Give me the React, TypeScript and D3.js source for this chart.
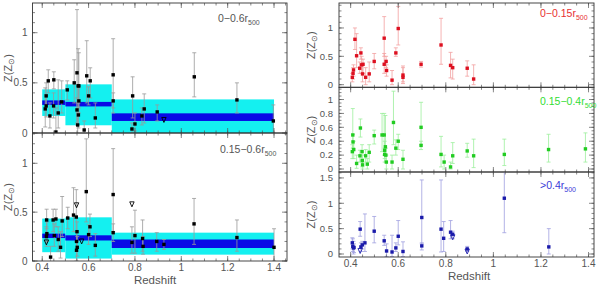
import React from "react";
import * as d3 from "d3";

// [redshift, Z, lower end of error bar, upper end of error bar]
type Pt = [number, number, number, number];
type Lim = [number, number];

const binEdges = [0.4, 0.5, 0.7, 1.4];

// left panels: running averages (cyan = scatter, blue = error on mean)
const topCyanLo = [0.17, 0.077, 0];
const topCyanHi = [0.435, 0.485, 0.335];
const topBlueLo = [0.28, 0.265, 0.12];
const topBlueHi = [0.325, 0.31, 0.196];

const botCyanLo = [0.09, 0.025, 0.065];
const botCyanHi = [0.434, 0.447, 0.29];
const botBlueLo = [0.235, 0.21, 0.133];
const botBlueHi = [0.28, 0.263, 0.22];

// 0-0.6 r500
const inner06: Pt[] = [
	[0.413, 0.24, 0.06, 0.45], [0.417, 0.27, 0.16, 0.38], [0.417, 0.37, 0.25, 0.5],
	[0.426, 0.52, 0.4, 0.63], [0.433, 0.17, 0.05, 0.3], [0.449, 0.27, 0.15, 0.4],
	[0.45, 0.53, 0.44, 0.61], [0.459, 0.01, -0.05, 0.25], [0.469, 0.2, 0.05, 0.53],
	[0.484, 0.31, 0.2, 0.52], [0.508, 0.43, 0.33, 0.52], [0.538, 0.5, 0.3, 0.73],
	[0.55, 0.6, 0.08, 1.23], [0.555, 0.47, 0.3, 0.84], [0.558, 0.47, 0.25, 0.8],
	[0.55, 0.23, 0.1, 0.35], [0.556, 0.18, 0.05, 0.3], [0.553, 0.08, -0.05, 0.2],
	[0.558, 0.32, 0.2, 0.45], [0.581, 0.03, -0.05, 0.12], [0.592, 0.57, 0.3, 0.92],
	[0.6, 0.37, 0.28, 0.46], [0.607, 0.52, 0.35, 0.65], [0.629, 0.15, 0.05, 0.3],
	[0.706, 0.58, 0.2, 0.94], [0.706, 0.32, 0.25, 0.4], [0.79, 0.37, 0.15, 0.56],
	[0.787, 0.04, 0, 0.1], [0.8, 0.09, 0.02, 0.2], [0.84, 0.24, 0.1, 0.39],
	[0.83, 0.17, 0.08, 0.25], [0.896, 0.21, 0.12, 0.28], [1.056, 0.56, 0.36, 0.8],
	[1.24, 0.33, 0.2, 0.5], [1.397, 0.12, 0, 0.28],
];
const inner06Lim: Lim[] = [[0.925, 0.13]];

// 0.15-0.6 r500
const mid06: Pt[] = [
	[0.419, 0.42, 0.33, 0.53], [0.418, 0.25, 0.15, 0.35], [0.42, 0.28, 0.2, 0.4],
	[0.436, 0.04, -0.05, 0.15], [0.447, 0.42, 0.3, 0.53], [0.459, 0.43, 0.35, 0.53],
	[0.452, 0.26, 0.15, 0.38], [0.469, 0.22, 0.1, 0.35], [0.479, 0.14, 0.03, 0.3],
	[0.486, 0.41, 0.25, 0.66], [0.51, 0.44, 0.33, 0.55], [0.535, 0.47, 0.3, 0.75],
	[0.547, 0.45, 0.3, 0.73], [0.548, 0.2, 0.1, 0.3], [0.548, 0.11, 0, 0.2],
	[0.55, 0.3, 0.2, 0.4], [0.551, 0.14, 0.05, 0.25], [0.59, 0.71, 0.4, 1.25],
	[0.6, 0.27, 0.17, 0.37], [0.606, 0.35, 0.25, 0.48], [0.629, 0.16, 0.05, 0.28],
	[0.706, 0.68, 0.3, 1.15], [0.706, 0.29, 0.2, 0.38], [0.787, 0.19, 0.08, 0.35],
	[0.8, 0.26, 0.08, 0.52], [0.833, 0.23, 0.1, 0.42], [0.835, 0.15, 0.07, 0.25],
	[0.894, 0.2, 0.1, 0.29], [0.925, 0.17, 0.12, 0.22], [1.055, 0.38, 0.17, 0.64],
	[1.24, 0.24, 0.1, 0.42], [1.4, 0.14, 0, 0.33],
];
const mid06Lim: Lim[] = [[0.418, 0.19], [0.548, 0.57], [0.57, 0.2], [0.787, 0.58]];

// 0-0.15 r500
const core: Pt[] = [
	[0.407, 0.13, 0.05, 0.2], [0.41, 0.2, 0.1, 0.3], [0.412, 0.26, 0.15, 0.35],
	[0.418, 0.8, 0.62, 1.0], [0.425, 0.51, 0.3, 0.9], [0.438, 0.29, 0.2, 0.4],
	[0.443, 0.56, 0.45, 0.65], [0.446, 0.35, 0.2, 0.5], [0.45, 0.19, 0.05, 0.35],
	[0.452, 0.36, 0.2, 0.45], [0.463, 0.13, 0, 0.3], [0.478, 0.19, 0.05, 0.4],
	[0.499, 0.41, 0.28, 0.55], [0.541, 0.82, 0.5, 1.2], [0.541, 0.36, 0.2, 0.55],
	[0.549, 0.41, 0.3, 0.5], [0.551, 0.25, 0.15, 0.35], [0.574, 0.08, 0, 0.25],
	[0.59, 0.56, 0.5, 0.65], [0.6, 0.99, 0.7, 1.38], [0.62, 0.17, 0.05, 0.33],
	[0.62, 0.13, 0.02, 0.3], [0.696, 0.36, 0.31, 0.41], [0.78, 0.7, 0.36, 1.17],
	[0.82, 0.34, 0.12, 0.57], [0.829, 0.3, 0.1, 0.45], [0.89, 0.29, 0.15, 0.42],
	[0.917, 0.1, 0, 0.35],
];

// 0.15-0.4 r500
const ring: Pt[] = [
	[0.407, 0.25, 0.15, 0.35], [0.409, 0.49, 0.3, 0.87], [0.41, 0.39, 0.3, 0.5],
	[0.413, 0.28, 0.15, 0.4], [0.425, 0.08, 0.01, 0.2], [0.439, 0.19, 0.1, 0.27],
	[0.441, 0.59, 0.46, 0.72], [0.448, 0.25, 0.12, 0.35], [0.449, 0.12, 0.03, 0.2],
	[0.45, 0.06, 0, 0.15], [0.463, 0.19, 0.1, 0.28], [0.47, 0.07, 0, 0.15],
	[0.478, 0.24, 0.1, 0.35], [0.499, 0.48, 0.36, 0.56], [0.532, 0.49, 0.25, 0.8],
	[0.541, 0.49, 0.2, 0.8], [0.543, 0.27, 0.15, 0.4], [0.543, 0.21, 0.1, 0.3],
	[0.546, 0.32, 0.2, 0.77], [0.548, 0.2, 0.1, 0.3], [0.55, 0.1, 0, 0.2],
	[0.574, 0.1, 0, 0.2], [0.58, 0.67, 0.35, 1.12], [0.59, 0.3, 0.2, 0.42],
	[0.6, 0.4, 0.28, 0.5], [0.62, 0.14, 0, 0.27], [0.696, 0.6, 0.35, 0.96],
	[0.696, 0.34, 0.28, 0.4], [0.78, 0.21, 0.03, 0.47], [0.793, 0.1, 0, 0.2],
	[0.82, 0.03, 0, 0.1], [0.829, 0.19, 0.08, 0.38], [0.89, 0.26, 0.17, 0.37],
	[0.917, 0.19, 0.02, 0.43], [1.046, 0.21, 0.05, 0.43], [1.232, 0.28, 0.1, 0.5],
	[1.387, 0.29, 0.1, 0.52],
];

// >0.4 r500
const outer: Pt[] = [
	[0.407, 0.22, 0.1, 0.32], [0.409, 0.15, 0.05, 0.3], [0.412, 0.12, 0, 0.25],
	[0.414, 0.13, 0.03, 0.2], [0.44, 0.49, 0.35, 0.64], [0.443, 0.14, 0.05, 0.22],
	[0.449, 0.18, 0.1, 0.25], [0.46, 0.22, 0.05, 0.79], [0.499, 0.45, 0.22, 0.74],
	[0.541, 0.26, 0.17, 0.37], [0.551, 0.06, -0.05, 0.2], [0.574, 0.04, -0.05, 0.37],
	[0.59, 0.12, 0.05, 0.22], [0.6, 0.35, 0.18, 0.66], [0.62, 0.05, -0.05, 0.24],
	[0.699, 0.72, 0.2, 1.46], [0.699, 0.16, 0.08, 0.22], [0.78, 0.49, 0.04, 1.46],
	[0.791, 0.31, 0.05, 0.64], [0.82, 0.43, 0.3, 0.66], [0.829, 0.39, 0.3, 0.45],
	[0.89, 0.1, 0.05, 0.15], [1.046, 1.1, 0.42, 1.7], [1.233, 0.14, 0, 0.5],
];
const outerLim: Lim[] = [[0.44, 0.06], [0.829, 0.33], [0.89, 0.05]];

const xTickLabels = ["0.4", "0.6", "0.8", "1", "1.2", "1.4"];

const FONT = "Liberation Sans, Arial, sans-serif";
const TXT = "#555";

interface Band {
	cLo: number[];
	cHi: number[];
	bLo: number[];
	bHi: number[];
}

interface PanelProps {
	id: string;
	x0: number;
	x1: number;
	y0: number;
	y1: number;
	xDom: [number, number];
	yDom: [number, number];
	yMajor: number[];
	yMinorStep: number;
	xLabels: boolean;
	xLabelY: number;
	labelGap: number;
	labelSize: number;
	titleX: number;
	pts: Pt[];
	lims?: Lim[];
	color: string;
	errColor: string;
	band?: Band;
	tag: string;
	tagColor: string;
	tagX: number;
	tagY: number;
}

function Panel(p: PanelProps) {
	const x = d3.scaleLinear().domain(p.xDom).range([p.x0, p.x1]);
	const y = d3.scaleLinear().domain(p.yDom).range([p.y1, p.y0]);
	const xMajor = d3.range(0.4, 1.41, 0.2);
	const xMinor = d3
		.range(0, 30)
		.map((i) => +(0.35 + i * 0.05).toFixed(3))
		.filter((v) => v >= p.xDom[0] && v <= p.xDom[1]);
	const yMinor = d3
		.range(0, 60)
		.map((i) => +(i * p.yMinorStep).toFixed(3))
		.filter((v) => v >= p.yDom[0] && v <= p.yDom[1]);
	const ML = 5;
	const mn = 2.5;
	const cap = 2;
	const cy = (p.y0 + p.y1) / 2;

	return (
		<g fontFamily={FONT}>
			<clipPath id={p.id}>
				<rect x={p.x0} y={p.y0} width={p.x1 - p.x0} height={p.y1 - p.y0} />
			</clipPath>
			<g clipPath={`url(#${p.id})`}>
				{p.band &&
					binEdges.slice(0, -1).map((e, i) => (
						<g key={i}>
							<rect
								x={x(e)}
								width={x(binEdges[i + 1]) - x(e)}
								y={y(p.band!.cHi[i])}
								height={y(p.band!.cLo[i]) - y(p.band!.cHi[i])}
								fill="#14f0f0"
							/>
							<rect
								x={x(e)}
								width={x(binEdges[i + 1]) - x(e)}
								y={y(p.band!.bHi[i])}
								height={y(p.band!.bLo[i]) - y(p.band!.bHi[i])}
								fill="#0a0ae6"
							/>
						</g>
					))}
				<g stroke={p.errColor} strokeWidth={0.8} fill="none">
					{p.pts.map((d, i) => (
						<path
							key={i}
							d={`M${x(d[0])},${y(d[2])}V${y(d[3])}M${x(d[0]) - cap},${y(d[2])}h${2 * cap}M${x(d[0]) - cap},${y(d[3])}h${2 * cap}`}
						/>
					))}
				</g>
				<g fill={p.color}>
					{p.pts.map((d, i) => (
						<rect key={i} x={x(d[0]) - 1.7} y={y(d[1]) - 1.7} width={3.4} height={3.4} />
					))}
				</g>
				<g fill="none" stroke={p.color} strokeWidth={0.9}>
					{(p.lims || []).map((d, i) => (
						<path
							key={i}
							transform={`translate(${x(d[0])},${y(d[1])})`}
							d="M-2.2,-2.5L2.2,-2.5L0,2.5Z"
						/>
					))}
				</g>
			</g>

			{/* ticks on all four sides */}
			<g stroke="#555" strokeWidth={0.7}>
				{xMinor.map((v) => (
					<g key={"xm" + v}>
						<line x1={x(v)} x2={x(v)} y1={p.y1} y2={p.y1 - mn} />
						<line x1={x(v)} x2={x(v)} y1={p.y0} y2={p.y0 + mn} />
					</g>
				))}
				{xMajor.map((v) => (
					<g key={"xM" + v}>
						<line x1={x(v)} x2={x(v)} y1={p.y1} y2={p.y1 - ML} />
						<line x1={x(v)} x2={x(v)} y1={p.y0} y2={p.y0 + ML} />
					</g>
				))}
				{yMinor.map((v) => (
					<g key={"ym" + v}>
						<line x1={p.x0} x2={p.x0 + mn} y1={y(v)} y2={y(v)} />
						<line x1={p.x1} x2={p.x1 - mn} y1={y(v)} y2={y(v)} />
					</g>
				))}
				{p.yMajor.map((v) => (
					<g key={"yM" + v}>
						<line x1={p.x0} x2={p.x0 + ML} y1={y(v)} y2={y(v)} />
						<line x1={p.x1} x2={p.x1 - ML} y1={y(v)} y2={y(v)} />
					</g>
				))}
			</g>
			<rect x={p.x0} y={p.y0} width={p.x1 - p.x0} height={p.y1 - p.y0} fill="none" stroke="#333" strokeWidth={0.9} />

			<g fill={TXT} fontSize={p.labelSize} textAnchor="end">
				{p.yMajor.map((v) => (
					<text key={v} x={p.x0 - p.labelGap} y={y(v)} dy="0.35em">
						{d3.format("~g")(v)}
					</text>
				))}
			</g>
			{p.xLabels && (
				<g fill={TXT} fontSize={10} textAnchor="middle">
					{xMajor.map((v, i) => (
						<text key={v} x={x(v)} y={p.xLabelY}>
							{xTickLabels[i]}
						</text>
					))}
				</g>
			)}
			<text
				x={p.titleX}
				y={cy}
				fill={TXT}
				fontSize={11}
				textAnchor="middle"
				transform={`rotate(-90 ${p.titleX} ${cy})`}
				dy="0.35em"
			>
				Z(Z<tspan fontSize={7.5} dy={2}>⊙</tspan>
				<tspan dy={-2}>)</tspan>
			</text>
			<text x={p.tagX} y={p.tagY} fill={p.tagColor} fontSize={10.5}>
				{p.tag}r<tspan fontSize={7} dy={2.5}>500</tspan>
			</text>
		</g>
	);
}

export default function App() {
	const lx: [number, number] = [0.358, 1.456];
	const rx: [number, number] = [0.351, 1.423];
	return (
		<svg width={600} height={284} style={{ position: "absolute", left: 0, top: 0, background: "#fff" }}>
			<Panel
				id="c1" x0={32.5} x1={287} y0={3} y1={133} xDom={lx} yDom={[0, 1.296]}
				yMajor={[0, 0.5, 1]} yMinorStep={0.1} xLabels={false} xLabelY={0} labelGap={5} labelSize={10} titleX={8}
				pts={inner06} lims={inner06Lim} color="#000" errColor="#999"
				band={{ cLo: topCyanLo, cHi: topCyanHi, bLo: topBlueLo, bHi: topBlueHi }}
				tag="0−0.6" tagColor={TXT} tagX={218} tagY={22}
			/>
			<Panel
				id="c2" x0={32.5} x1={287} y0={133} y1={261} xDom={lx} yDom={[0, 1.31]}
				yMajor={[0, 0.5, 1]} yMinorStep={0.1} xLabels={true} xLabelY={271} labelGap={5} labelSize={10} titleX={8}
				pts={mid06} lims={mid06Lim} color="#000" errColor="#999"
				band={{ cLo: botCyanLo, cHi: botCyanHi, bLo: botBlueLo, bHi: botBlueHi }}
				tag="0.15−0.6" tagColor={TXT} tagX={220} tagY={153}
			/>
			<text x={155} y={283.5} fontFamily={FONT} fontSize={11.5} fill={TXT} textAnchor="middle">Redshift</text>

			<Panel
				id="c3" x0={339} x1={594} y0={3} y1={87.3} xDom={rx} yDom={[-0.046, 1.44]}
				yMajor={[0, 0.5, 1]} yMinorStep={0.1} xLabels={false} xLabelY={0} labelGap={6} labelSize={9.5} titleX={311}
				pts={core} color="#dd1020" errColor="#f3a0a0"
				tag="0−0.15" tagColor="#e83030" tagX={540} tagY={17}
			/>
			<Panel
				id="c4" x0={339} x1={594} y0={87.3} y1={172} xDom={rx} yDom={[-0.043, 1.176]}
				yMajor={[0, 0.2, 0.4, 0.6, 0.8, 1]} yMinorStep={0.05} xLabels={false} xLabelY={0} labelGap={6} labelSize={9.5} titleX={311}
				pts={ring} color="#22cc22" errColor="#9cef9c"
				tag="0.15−0.4" tagColor="#33dd33" tagX={540} tagY={105}
			/>
			<Panel
				id="c5" x0={339} x1={594} y0={172} y1={257} xDom={rx} yDom={[-0.059, 1.617]}
				yMajor={[0, 0.5, 1, 1.5]} yMinorStep={0.1} xLabels={true} xLabelY={267} labelGap={6} labelSize={9.5} titleX={311}
				pts={outer} lims={outerLim} color="#1a1aaa" errColor="#a0a0e0"
				tag=">0.4" tagColor="#3a3ad8" tagX={540} tagY={189}
			/>
			<text x={469} y={280} fontFamily={FONT} fontSize={11.5} fill={TXT} textAnchor="middle">Redshift</text>
		</svg>
	);
}
